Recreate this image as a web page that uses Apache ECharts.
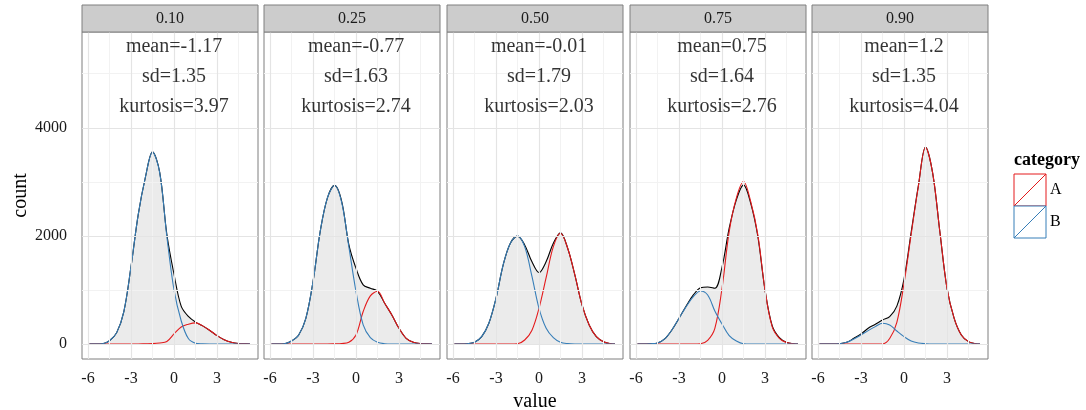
<!DOCTYPE html>
<html><head><meta charset="utf-8">
<script src="https://cdn.jsdelivr.net/npm/echarts@6/dist/echarts.min.js"></script>
<style>html,body{margin:0;padding:0;background:#fff}#c{width:1086px;height:410px}</style>
</head><body><div id="c"></div>
<script>
// ---- data ----
const facets = ['0.10', '0.25', '0.50', '0.75', '0.90'];
const xValues = [-5.9, -5.5, -5, -4.5, -4, -3.5, -3, -2.5, -2, -1.5, -1, -0.5, 0, 0.5, 1, 1.5, 2, 2.5, 3, 3.5, 4, 4.5, 5, 5.3];

const total010 = [0, 0, 5, 60, 210, 600, 1430, 2390, 3080, 3555, 3180, 2030, 1290, 700, 510, 405, 335, 250, 155, 80, 31, 8, 2, 0];
const catA010  = [0, 0, 0, 0, 0, 0, 0, 0, 3, 6, 18, 45, 185, 315, 365, 390, 335, 250, 155, 80, 31, 8, 2, 0];
const catB010  = [0, 0, 5, 60, 210, 600, 1430, 2390, 3080, 3550, 3170, 1990, 1000, 430, 100, 15, 3, 0, 0, 0, 0, 0, 0, 0];

const total025 = [0, 0, 5, 55, 167, 475, 1154, 2080, 2700, 2935, 2640, 1840, 1400, 1093, 1031, 975, 753, 537, 290, 105, 31, 6, 1, 0];
const catA025  = [0, 0, 0, 0, 0, 0, 0, 0, 0, 3, 8, 31, 167, 600, 890, 975, 753, 537, 290, 105, 31, 6, 1, 0];
const catB025  = [0, 0, 5, 55, 167, 475, 1154, 2080, 2700, 2932, 2620, 1800, 969, 352, 117, 31, 5, 0, 0, 0, 0, 0, 0, 0];

const total050 = [0, 0, 5, 31, 136, 383, 846, 1463, 1864, 1995, 1833, 1525, 1321, 1525, 1864, 2055, 1772, 1278, 722, 352, 136, 43, 5, 0];
const catA050  = [0, 0, 0, 0, 0, 0, 0, 0, 0, 5, 74, 250, 660, 1230, 1802, 2049, 1772, 1278, 722, 352, 136, 43, 5, 0];
const catB050  = [0, 0, 5, 31, 136, 383, 846, 1463, 1864, 2000, 1800, 1260, 660, 290, 117, 31, 6, 0, 0, 0, 0, 0, 0, 0];

const total075 = [0, 0, 5, 18, 93, 259, 475, 704, 907, 1040, 1055, 1030, 1420, 2142, 2667, 2944, 2605, 1988, 1000, 340, 117, 31, 5, 0];
const catA075  = [0, 0, 0, 0, 0, 0, 0, 0, 0, 5, 68, 290, 1030, 2080, 2700, 3006, 2636, 2019, 1000, 321, 105, 25, 5, 0];
const catB075  = [0, 0, 5, 18, 93, 259, 475, 691, 877, 981, 907, 611, 370, 154, 55, 5, 0, 0, 0, 0, 0, 0, 0, 0];

const total090 = [0, 0, 0, 5, 31, 105, 185, 290, 364, 444, 506, 700, 1200, 2070, 2926, 3645, 3160, 2080, 1030, 475, 167, 43, 5, 0];
const catA090  = [0, 0, 0, 0, 0, 0, 0, 0, 0, 0, 100, 400, 1120, 2030, 2914, 3640, 3160, 2080, 1030, 475, 167, 43, 5, 0];
const catB090  = [0, 0, 0, 5, 31, 93, 167, 247, 321, 383, 352, 240, 136, 55, 18, 5, 0, 0, 0, 0, 0, 0, 0, 0];

const totals = [total010, total025, total050, total075, total090];
const catA = [catA010, catA025, catA050, catA075, catA090];
const catB = [catB010, catB025, catB050, catB075, catB090];

const means = ['-1.17', '-0.77', '-0.01', '0.75', '1.2'];
const sds = ['1.35', '1.63', '1.79', '1.64', '1.35'];
const kurtoses = ['3.97', '2.74', '2.03', '2.76', '4.04'];

const xTicks = [-6, -3, 0, 3];
const xMinor = [-4.5, -1.5, 1.5, 4.5];
const yTicks = [0, 2000, 4000];
const yMinor = [1000, 3000, 5000];
const categories = ['A', 'B'];

// ---- styling / layout ----
const FONT = '"Liberation Serif", "DejaVu Serif", serif';
const RED = '#E41A1C', BLUE = '#377EB8';
const PANEL_W = 176, PANEL_TOP = 32, PANEL_H = 327, STEP = 182.65, LEFT0 = 81.7;
const X_MIN = -6.42, X_MAX = 5.86, Y_MIN = -278, Y_MAX = 5772;
const TEXT_Y = [5500, 4945, 4390];

const grids = [], xAxes = [], yAxes = [], series = [], graphics = [];

facets.forEach((f, i) => {
  const left = Math.round(LEFT0 + STEP * i);
  grids.push({left: left, top: PANEL_TOP, width: PANEL_W, height: PANEL_H, show: true,
    backgroundColor: '#fff', borderColor: '#7f7f7f', borderWidth: 1, containLabel: false, outerBoundsMode: 'none'});
  xAxes.push({
    type: 'value', gridIndex: i, min: X_MIN, max: X_MAX,
    axisLine: {show: false}, splitLine: {show: false},
    axisTick: {show: true, customValues: xTicks, length: 6, lineStyle: {color: '#333', width: 1}},
    axisLabel: {show: true, customValues: xTicks, margin: 12, fontSize: 16, color: '#1a1a1a', fontFamily: FONT,
      formatter: v => String(v)},
    name: i === 2 ? 'value' : '', nameLocation: 'middle', nameGap: 26,
    nameTextStyle: {fontSize: 20, color: '#000', fontFamily: FONT}
  });
  yAxes.push({
    type: 'value', gridIndex: i, min: Y_MIN, max: Y_MAX,
    axisLine: {show: false}, splitLine: {show: false},
    axisTick: {show: i === 0, customValues: yTicks, length: 6, lineStyle: {color: '#333', width: 1}},
    axisLabel: {show: i === 0, customValues: yTicks, margin: 15, fontSize: 16, color: '#1a1a1a', fontFamily: FONT,
      formatter: v => String(v)},
    name: i === 0 ? 'count' : '', nameLocation: 'middle', nameGap: 50,
    nameTextStyle: {fontSize: 20, color: '#000', fontFamily: FONT}
  });

  const minorStyle = {color: '#f2f2f2', width: 1, type: 'solid'};
  const majorStyle = {color: '#e4e4e4', width: 1.2, type: 'solid'};
  series.push({
    type: 'line', xAxisIndex: i, yAxisIndex: i, data: [], z: 1, silent: true, animation: false,
    markLine: {
      silent: true, animation: false, symbol: ['none', 'none'], label: {show: false},
      lineStyle: {type: 'solid'}, emphasis: {disabled: true},
      data: [
        ...xMinor.map(v => ({xAxis: v, lineStyle: minorStyle})),
        ...yMinor.map(v => ({yAxis: v, lineStyle: minorStyle})),
        ...xTicks.map(v => ({xAxis: v, lineStyle: majorStyle})),
        ...yTicks.map(v => ({yAxis: v, lineStyle: majorStyle}))
      ]
    }
  });

  const pts = arr => xValues.map((x, k) => [x, arr[k]]);
  series.push({
    type: 'line', xAxisIndex: i, yAxisIndex: i, data: pts(totals[i]), smooth: 0.35, symbol: 'none',
    lineStyle: {color: '#000', width: 1.1}, areaStyle: {color: '#ebebeb', opacity: 1}, z: 2, silent: true
  });
  series.push({
    type: 'line', name: 'A', xAxisIndex: i, yAxisIndex: i, data: pts(catA[i]), smooth: 0.35, symbol: 'none',
    lineStyle: {color: RED, width: 1.1}, z: 3, silent: true
  });
  series.push({
    type: 'line', name: 'B', xAxisIndex: i, yAxisIndex: i, data: pts(catB[i]), smooth: 0.35, symbol: 'none',
    lineStyle: {color: BLUE, width: 1.1}, z: 4, silent: true
  });
  series.push({
    type: 'scatter', xAxisIndex: i, yAxisIndex: i, symbolSize: 0, z: 5, silent: true,
    data: [[0, TEXT_Y[0], 'mean=' + means[i]], [0, TEXT_Y[1], 'sd=' + sds[i]], [0, TEXT_Y[2], 'kurtosis=' + kurtoses[i]]],
    label: {show: true, position: 'inside', formatter: p => p.data[2], fontSize: 20, color: '#000',
      textBorderWidth: 0, fontFamily: FONT}
  });

  graphics.push({type: 'rect', shape: {x: left, y: 5, width: PANEL_W, height: 27},
    style: {fill: '#cccccc', stroke: '#7f7f7f', lineWidth: 1}, z: 10});
  graphics.push({type: 'text', x: left + PANEL_W / 2, y: 19,
    style: {text: f, fontSize: 16, fill: '#1a1a1a', fontFamily: FONT, textAlign: 'center', textVerticalAlign: 'middle'}, z: 11});
});

// legend
graphics.push({type: 'text', x: 1014, y: 160,
  style: {text: 'category', fontSize: 18, fontWeight: 'bold', fill: '#000', fontFamily: FONT, textVerticalAlign: 'middle'}});
[RED, BLUE].forEach((c, k) => {
  const y0 = 174 + 32 * k;
  graphics.push({type: 'rect', shape: {x: 1014, y: y0, width: 32, height: 32}, style: {fill: '#fff', stroke: c, lineWidth: 1}});
  graphics.push({type: 'line', shape: {x1: 1014, y1: y0 + 32, x2: 1046, y2: y0}, style: {stroke: c, lineWidth: 1}});
  graphics.push({type: 'text', x: 1050, y: y0 + 16,
    style: {text: categories[k], fontSize: 16, fill: '#000', fontFamily: FONT, textVerticalAlign: 'middle'}});
});

const chart = echarts.init(document.getElementById('c'), null, {renderer: 'canvas'});
chart.setOption({
  animation: false,
  backgroundColor: '#fff',
  textStyle: {fontFamily: FONT},
  grid: grids, xAxis: xAxes, yAxis: yAxes, series: series, graphic: graphics
});
</script></body></html>
